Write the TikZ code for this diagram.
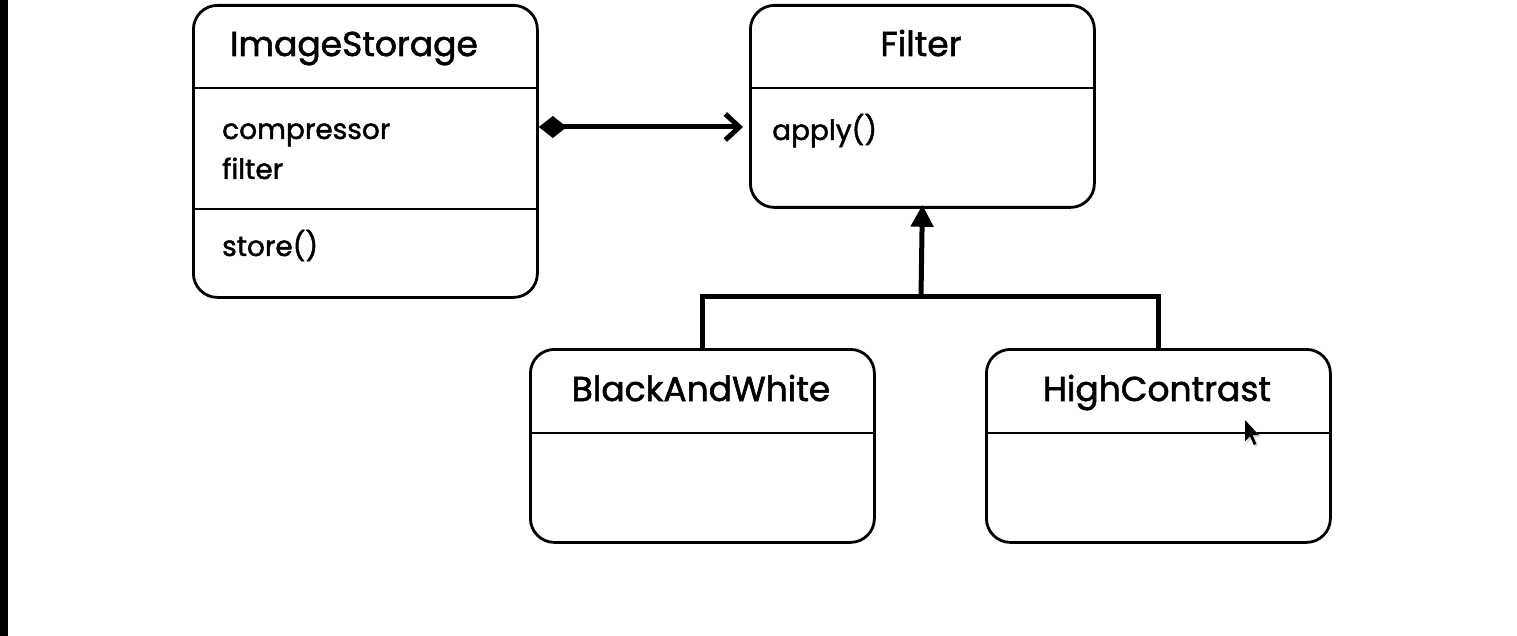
\documentclass[tikz,border=0pt]{standalone}
\usepackage{fontspec}
\setmainfont{Poppins}[FakeBold=1.6]
\usetikzlibrary{arrows.meta}
\begin{document}
\begin{tikzpicture}[x=1pt,y=-1pt,
  cls/.style={draw, line width=2.8pt, rounded corners=24pt, minimum width=344pt, inner sep=0pt},
  divider/.style={line width=2.4pt},
  title/.style={font=\fontsize{34.5}{40}\selectfont, inner sep=0pt, anchor=base},
  member/.style={font=\fontsize{28}{33}\selectfont, inner sep=0pt, anchor=base west},
  conn/.style={line width=5pt, line join=miter}]
\useasboundingbox (0,0) rectangle (1517,636);
\fill[white] (0,0) rectangle (1517,636);
\fill[black] (0,0) rectangle (8,636);
% classes
\node[cls, minimum height=292pt, anchor=north west] (is) at (192,4) {};
\node[cls, minimum height=202pt, anchor=north west] (filter) at (749,4) {};
\node[cls, minimum height=193pt, anchor=north west] (bw) at (529,348) {};
\node[cls, minimum height=193pt, anchor=north west] (hc) at (985,348) {};
% dividers
\draw[divider] (is.west |- 0,88) -- (is.east |- 0,88);
\draw[divider] (is.west |- 0,209) -- (is.east |- 0,209);
\draw[divider] (filter.west |- 0,88) -- (filter.east |- 0,88);
\draw[divider] (bw.west |- 0,433) -- (bw.east |- 0,433);
\draw[divider] (hc.west |- 0,433) -- (hc.east |- 0,433);
% texts
\node[title] (ist) at (354,56) {ImageStorage};
\node[member] (isa1) at (222,139) {compressor};
\node[member] (isa2) at (222,179) {filter};
\node[member] (ism) at (222,256) {store()};
\node[title] (ft) at (921,56) {Filter};
\node[member] (fm) at (772,140) {apply()};
\node[title] (bwt) at (701,401) {BlackAndWhite};
\node[title] (hct) at (1157,401) {HighContrast};
% composition
\coordinate (cy) at (0,127);
\draw[conn, {Diamond[length=28pt,width=22pt,line width=0pt]}-{Straight Barb[length=14pt,width=26pt]}]
  (is.east |- cy) -- ([xshift=-6pt]filter.west |- cy);
% inheritance
\coordinate (j) at (921,296);
\draw[conn] ([yshift=-3pt]bw.north) |- (j) -| ([yshift=-3pt]hc.north);
\draw[conn, -{Triangle[length=22pt,width=22pt]}] (j) -- ([yshift=4pt]filter.south);
% cursor
\begin{scope}[shift={(1245,420)}, scale=1.25]
\fill[black!25, opacity=0.6] (1.5,1.5) -- (1.5,18.5) -- (5.5,14.5) -- (8.5,21.5) -- (10.5,20.5) -- (7.5,13.5) -- (12.5,13.5) -- cycle;
\fill[black] (0,0) -- (0,17) -- (4,13) -- (7,20) -- (9,19) -- (6,12) -- (11,12) -- cycle;
\end{scope}
\end{tikzpicture}
\end{document}
